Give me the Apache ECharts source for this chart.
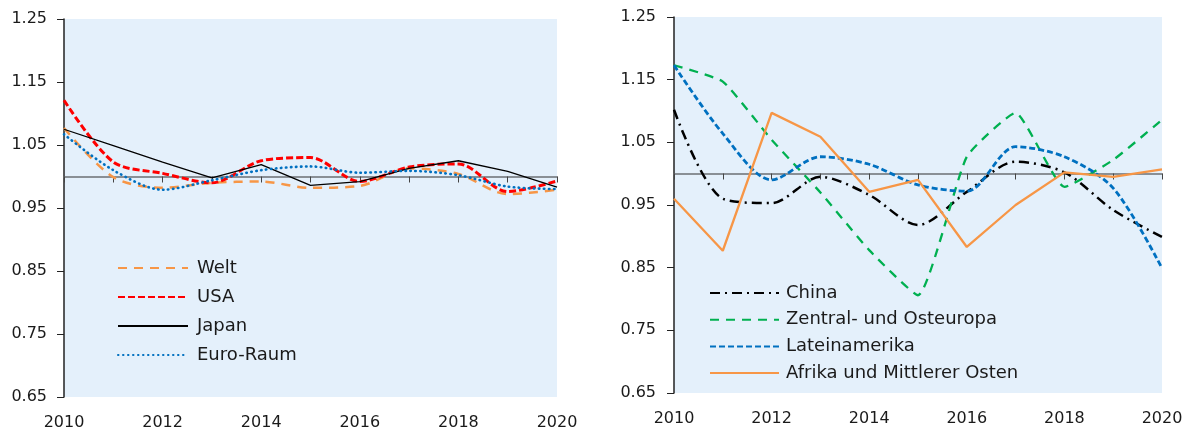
<!DOCTYPE html>
<html>
<head>
<meta charset="utf-8">
<script src="https://cdn.jsdelivr.net/npm/echarts@6/dist/echarts.min.js"></script>
<style>
html,body{margin:0;padding:0;background:#fff;}
#c{width:1191px;height:431px;}
</style>
</head>
<body>
<div id="c"></div>
<script>
const years = ['2010','2011','2012','2013','2014','2015','2016','2017','2018','2019','2020'];
const yTicks = [0.65, 0.75, 0.85, 0.95, 1.05, 1.15, 1.25];

const welt    = [1.077, 0.999, 0.982, 0.990, 0.992, 0.982, 0.985, 1.013, 1.004, 0.972, 0.979];
const usa     = [1.121, 1.023, 1.005, 0.990, 1.025, 1.030, 0.992, 1.015, 1.020, 0.976, 0.993];
const japan   = [1.075, 1.049, 1.023, 0.998, 1.019, 0.986, 0.992, 1.013, 1.025, 1.008, 0.983];
const euro    = [1.067, 1.010, 0.979, 0.994, 1.010, 1.016, 1.006, 1.009, 1.002, 0.984, 0.980];

const china   = [1.102, 0.960, 0.953, 0.995, 0.966, 0.918, 0.971, 1.019, 1.002, 0.942, 0.899];
const zentral = [1.173, 1.147, 1.054, 0.970, 0.878, 0.806, 1.027, 1.097, 0.979, 1.022, 1.086];
const latein  = [1.173, 1.064, 0.990, 1.027, 1.015, 0.982, 0.972, 1.043, 1.027, 0.977, 0.849];
const afrika  = [0.960, 0.877, 1.097, 1.059, 0.971, 0.990, 0.883, 0.950, 1.002, 0.995, 1.007];

const FONT = 'DejaVu Sans';
const TXT = '#1a1a1a';
const BG = '#e4f0fb';

const grids = [
  {left: 64, top: 19, width: 493, height: 378},
  {left: 674, top: 17, width: 488, height: 376}
];

function yAxis(gi, margin){
  return {
    type: 'value', gridIndex: gi, min: yTicks[0], max: yTicks[yTicks.length-1], interval: 0.1,
    splitLine: {show: false},
    axisLine: {show: true, lineStyle: {color: '#222', width: 1.5}},
    axisTick: {show: true, length: 7, lineStyle: {color: '#222', width: 1}},
    axisLabel: {color: TXT, fontFamily: FONT, fontSize: 16, margin: margin,
      formatter: v => Number(v).toFixed(2)}
  };
}
function xAxisLabels(gi, margin){
  return {
    type: 'category', gridIndex: gi, data: years, boundaryGap: false, position: 'bottom',
    axisLine: {show: false}, axisTick: {show: false},
    axisLabel: {color: TXT, fontFamily: FONT, fontSize: 16, margin: margin, interval: 1,
      showMinLabel: true, showMaxLabel: true}
  };
}
function xAxisRef(gi, offset){
  return {
    type: 'category', gridIndex: gi, data: years, boundaryGap: false, position: 'bottom',
    offset: offset,
    axisLine: {show: true, lineStyle: {color: '#6b6f74', width: 1.5}},
    axisTick: {show: true, interval: 0, length: 6, lineStyle: {color: '#444', width: 1}},
    axisLabel: {show: false}
  };
}

function line(name, data, xi, yi, color, width, type, smooth, cap){
  return {
    name: name, type: 'line', xAxisIndex: xi, yAxisIndex: yi, data: data,
    symbol: 'none', smooth: smooth, z: 3,
    lineStyle: {color: color, width: width, type: type, cap: cap || 'butt'},
    itemStyle: {color: color}
  };
}

const legendText = {color: TXT, fontFamily: FONT, fontSize: 18, lineHeight: 18};

const option = {
  animation: false,
  backgroundColor: '#ffffff',
  grid: grids.map(g => Object.assign({show: true, backgroundColor: BG, borderWidth: 0}, g)),
  xAxis: [
    xAxisLabels(0, 18),
    xAxisRef(0, -220.5),
    xAxisLabels(1, 18),
    xAxisRef(1, -219.5)
  ],
  yAxis: [yAxis(0, 17), yAxis(1, 18)],
  legend: [
    {
      data: ['Welt','USA','Japan','Euro-Raum'],
      orient: 'vertical', left: 117, top: 259, padding: 0,
      itemWidth: 70, itemHeight: 14, itemGap: 11,
      itemStyle: {opacity: 0},
      textStyle: Object.assign({padding: [0,0,0,4]}, legendText)
    },
    {
      data: ['China','Zentral- und Osteuropa','Lateinamerika','Afrika und Mittlerer Osten'],
      orient: 'vertical', left: 709, top: 284, padding: 0,
      itemWidth: 69, itemHeight: 14, itemGap: 8.7,
      itemStyle: {opacity: 0},
      textStyle: Object.assign({padding: [0,0,0,2]}, legendText)
    }
  ],
  series: [
    line('Welt', welt, 0, 0, '#f79646', 2.5, [9, 7], 0.3),
    line('USA', usa, 0, 0, '#ff0000', 3, [7, 3], 0.3),
    line('Japan', japan, 0, 0, '#000000', 1.3, 'solid', false),
    line('Euro-Raum', euro, 0, 0, '#0070c0', 2.6, [0.5, 4.5], 0.3, 'round'),
    line('China', china, 2, 1, '#000000', 2.5, [10, 5, 2, 5], 0.3),
    line('Zentral- und Osteuropa', zentral, 2, 1, '#00b050', 2.3, [9, 7], 0.15),
    line('Lateinamerika', latein, 2, 1, '#0070c0', 2.8, [6, 3], 0.3),
    line('Afrika und Mittlerer Osten', afrika, 2, 1, '#f79646', 2.3, 'solid', false)
  ]
};

const chart = echarts.init(document.getElementById('c'), null, {renderer: 'canvas'});
chart.setOption(option);
</script>
</body>
</html>
